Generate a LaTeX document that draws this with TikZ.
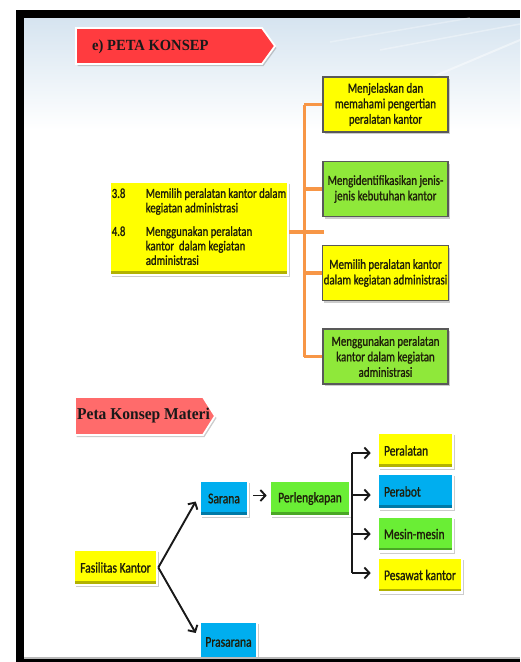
\documentclass[tikz,border=0pt]{standalone}
\usepackage{fontspec}
\usetikzlibrary{arrows.meta,shadows}
\newfontfamily\bxfont[FakeStretch=0.78,FakeBold=1.1]{Carlito}
\newfontfamily\ttlfont[FakeStretch=0.94]{Liberation Serif}
\newcommand\lft[2]{\makebox[#1][l]{#2}}

\definecolor{ylw}{HTML}{FFFF00}
\definecolor{topgrn}{HTML}{8FE83A}
\definecolor{lowgrn}{HTML}{6AEE35}
\definecolor{blu}{HTML}{00AEEF}
\definecolor{ribred}{HTML}{FF3B3F}
\definecolor{ribpink}{HTML}{FF6B6B}
\definecolor{orng}{HTML}{F79646}
\definecolor{sky}{HTML}{D6E4F0}
\definecolor{ink}{HTML}{1E1E0A}

\tikzset{
  softshadow/.style={drop shadow={opacity=0.4, shadow xshift=1.5pt, shadow yshift=-2pt}},
  topbox/.style={fill=#1, draw=black!65, line width=1.5pt, minimum width=125pt,
    minimum height=55pt, align=center, inner sep=1pt, text=ink,
    font=\bxfont\fontsize{14}{15.5}\selectfont, softshadow},
  lowbox/.style={fill=#1, draw=white, line width=2.6pt, minimum height=35pt,
    inner xsep=6pt, text=ink, font=\bxfont\fontsize{14.8}{16}\selectfont, softshadow,
    path picture={\fill[#1!70!black] (path picture bounding box.south west)
      rectangle ([yshift=4pt]path picture bounding box.south east);}},
  ribbon/.style={fill=#1, draw=white, line width=1.8pt, softshadow},
  orline/.style={draw=orng, line width=3.4pt},
  blk/.style={draw=black!90, line width=1.9pt},
  arr/.style={blk, -{Straight Barb[length=5pt,width=11pt,line width=1.9pt]}},
}

\begin{document}
\begin{tikzpicture}[x=1pt,y=-1pt]
\useasboundingbox (0,0) rectangle (520,662);

% slide frame and background
\fill[black] (16,10) rectangle (520,662);
\fill[white] (24,18) rectangle (520,657);
\shade[top color=sky, bottom color=white] (24,18) rectangle (520,130);
\draw[white, opacity=0.45, line width=2pt] (520,40) -- (430,78);
\draw[white, opacity=0.35, line width=1.5pt] (520,24) -- (380,50);
\draw[white, opacity=0.3, line width=1.5pt] (470,18) -- (330,42);

% heading ribbon
\path[ribbon=ribred] (76,28) -- (262,28) -- (275,46) -- (262,64) -- (76,64) -- cycle;
\node[anchor=west, inner sep=0pt, text=black!90,
  font=\ttlfont\bfseries\fontsize{15.5}{17}\selectfont] (ttl) at (92,47) {e) PETA KONSEP};

% competence box
\node[fill=ylw, draw=white, line width=2.4pt, minimum width=178pt, minimum height=93pt,
  inner sep=1.5pt, softshadow, text=ink,
  font=\bxfont\fontsize{13.8}{14.5}\selectfont,
  path picture={\fill[ylw!70!black] (path picture bounding box.south west)
      rectangle ([yshift=4.5pt]path picture bounding box.south east);}]
  (kd) at (199,228.5) {%
  \begin{tabular}{@{}p{34pt}@{}l@{}}
  3.8 & Memilih peralatan kantor dalam\\
      & kegiatan administrasi\\[9pt]
  4.8 & Menggunakan peralatan\\
      & kantor\ \ dalam kegiatan\\
      & administrasi
  \end{tabular}};

% indicator boxes
\node[topbox=ylw]    (b1) at (385.5,104.5) {Menjelaskan dan\\memahami pengertian\\peralatan kantor};
\node[topbox=topgrn] (b2) at (385.5,189)   {Mengidentifikasikan jenis-\\jenis kebutuhan kantor};
\node[topbox=ylw]    (b3) at (385.5,273)   {Memilih peralatan kantor\\dalam kegiatan administrasi};
\node[topbox=topgrn] (b4) at (385.5,356.5) {Menggunakan peralatan\\kantor dalam kegiatan\\administrasi};

% orange tree connectors
\draw[orline] ([yshift=-3.5pt]kd.east) -- ([yshift=-3.5pt,xshift=2pt]kd.east -| b1.west) ;
\draw[orline] ([xshift=-18pt]b1.west) -- ([xshift=-18pt]b4.west);
\foreach \b in {b1,b2,b3,b4}
  \draw[orline] ([xshift=-18pt]\b.west) -- (\b.west);

% second heading ribbon
\path[ribbon=ribpink] (75,397) -- (203,397) -- (215,416) -- (203,435) -- (75,435) -- cycle;
\node[anchor=west, inner sep=0pt, text=black!90,
  font=\ttlfont\bfseries\fontsize{16.5}{18}\selectfont] (ttl2) at (77,416) {Peta Konsep Materi};

% concept map boxes
\node[lowbox=ylw, minimum width=83pt, inner xsep=3pt] (fk) at (115.5,567.5) {Fasilitas Kantor};
\node[lowbox=blu, minimum width=48pt, inner xsep=3pt] (sar) at (224,498.5) {Sarana};
\node[lowbox=lowgrn, minimum width=80pt, inner xsep=3pt] (per) at (310,498.5) {Perlengkapan};
\node[lowbox=ylw] (pl) at (415.5,450.5) {\lft{63pt}{Peralatan}};
\node[lowbox=blu] (pb) at (415.5,491.5) {\lft{63pt}{Perabot}};
\node[lowbox=lowgrn] (mm) at (415.5,534) {\lft{63pt}{Mesin-mesin}};
\node[lowbox=ylw] (pk) at (420,575) {\lft{72pt}{Pesawat kantor}};
\node[lowbox=blu, minimum width=57pt, minimum height=40pt, inner xsep=3pt] (pra) at (228.5,642) {Prasarana};

% concept map arrows
\draw[arr] (fk.east) -- ([xshift=-3pt,yshift=-3pt]sar.west);
\draw[arr] (fk.east) -- ([xshift=-3pt,yshift=9pt]pra.west);
\draw[arr] ([xshift=4pt,yshift=3pt]sar.east) -- ([xshift=-2pt,yshift=3pt]per.west);
\draw[blk] ([yshift=3.5pt]per.east) -- ([xshift=-25pt,yshift=-3.5pt]pb.west);
\draw[blk] ([xshift=-25pt,yshift=-2.5pt]pl.west) -- ([xshift=-25pt,yshift=2pt]pk.west);
\draw[arr] ([xshift=-25pt,yshift=-2.5pt]pl.west) -- ([xshift=-6pt,yshift=-2.5pt]pl.west);
\draw[arr] ([xshift=-25pt,yshift=-3.5pt]pb.west) -- ([xshift=-6pt,yshift=-3.5pt]pb.west);
\draw[arr] ([xshift=-25pt]mm.west) -- ([xshift=-6pt]mm.west);
\draw[arr] ([xshift=-25pt,yshift=2pt]pk.west) -- ([xshift=-6pt,yshift=2pt]pk.west);

% bottom edge of the frame
\fill[gray!55] (24,656.5) rectangle (520,658.5);
\fill[black] (16,658.5) rectangle (520,662);
\end{tikzpicture}
\end{document}
